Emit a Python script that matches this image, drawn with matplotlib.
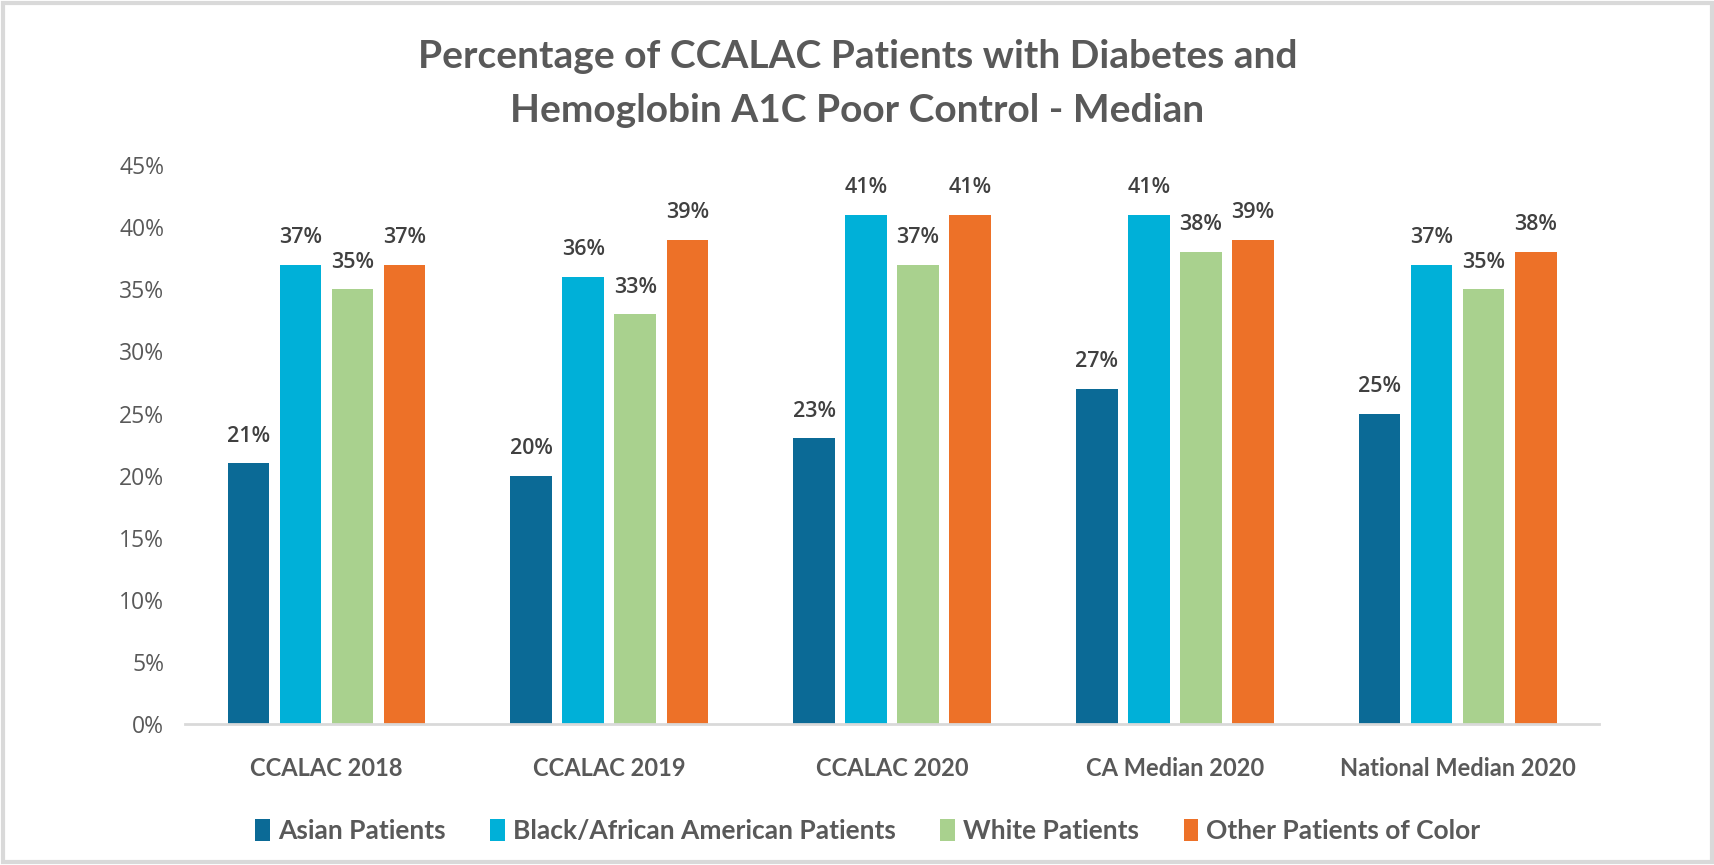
import matplotlib.pyplot as plt
import numpy as np
from matplotlib.patches import Rectangle
from matplotlib.ticker import PercentFormatter

plt.rcParams['font.family'] = ['Lato', 'DejaVu Sans']

categories = ['CCALAC 2018', 'CCALAC 2019', 'CCALAC 2020', 'CA Median 2020', 'National Median 2020']
series_names = ['Asian Patients', 'Black/African American Patients', 'White Patients', 'Other Patients of Color']
asian = [21, 20, 23, 27, 25]
black = [37, 36, 41, 41, 37]
white = [35, 33, 37, 38, 35]
other = [37, 39, 41, 39, 38]
colors = ['#0B6A96', '#00B0D8', '#A9D18E', '#ED7128']

text_color = '#595959'
num_font = ['Open Sans', 'DejaVu Sans']

fig = plt.figure(figsize=(17.15, 8.65), dpi=100)
ax = fig.add_axes([0.1079, 0.163, 0.8245, 0.646])

x = np.arange(len(categories))
width = 0.147
step = 0.184
for i, (vals, name, col) in enumerate(zip([asian, black, white, other], series_names, colors)):
    pos = x + (i - 1.5) * step
    bars = ax.bar(pos, vals, width, color=col, label=name)
    for b, v in zip(bars, vals):
        ax.annotate(f'{v}%', (b.get_x() + b.get_width() / 2, v), xytext=(0, 12),
                    textcoords='offset points', ha='center', va='bottom',
                    fontsize=15.5, fontweight='semibold', color='#404040', family=num_font)

ax.set_ylim(0, 45)
ax.set_xlim(-0.5, len(categories) - 0.5)
ax.set_yticks(np.arange(0, 46, 5))
ax.yaxis.set_major_formatter(PercentFormatter(decimals=0))
for lbl in ax.get_yticklabels():
    lbl.set_family(num_font)
ax.set_xticks(x)
ax.set_xticklabels(categories, fontsize=17, fontweight='bold', color=text_color)
ax.tick_params(axis='y', labelsize=16.5, colors=text_color, length=0, pad=15)
ax.tick_params(axis='x', length=0, pad=24)
for s in ['top', 'right', 'left']:
    ax.spines[s].set_visible(False)
ax.spines['bottom'].set_color('#D9D9D9')
ax.spines['bottom'].set_linewidth(2)

fig.suptitle('Percentage of CCALAC Patients with Diabetes and\nHemoglobin A1C Poor Control - Median',
             x=0.5, y=0.955, fontsize=28, fontweight='bold', color=text_color, linespacing=1.65)

leg = fig.legend(loc='center', bbox_to_anchor=(0.506, 0.039), ncol=4, frameon=False,
                 fontsize=19, handlelength=0.55, handleheight=0.9, handletextpad=0.3,
                 columnspacing=1.7)
for t in leg.get_texts():
    t.set_color(text_color)
    t.set_fontweight('bold')

fig.patches.append(Rectangle((0.002, 0.003), 0.996, 0.994, transform=fig.transFigure,
                             fill=False, edgecolor='#D9D9D9', linewidth=3))

fig.savefig('out.png', dpi=100)
